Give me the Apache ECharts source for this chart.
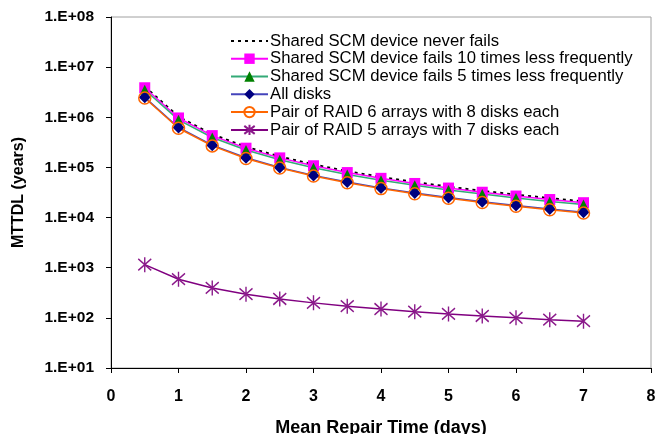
<!DOCTYPE html>
<html>
<head>
<meta charset="utf-8">
<script src="https://cdn.jsdelivr.net/npm/echarts@6/dist/echarts.min.js"></script>
<style>html,body{margin:0;padding:0;background:#fff;overflow:hidden}#c{width:655px;height:434px}</style>
</head>
<body>
<div id="c"></div>
<script>
var repairDays = [0.5, 1, 1.5, 2, 2.5, 3, 3.5, 4, 4.5, 5, 5.5, 6, 6.5, 7];
var seriesNames = [
  'Shared SCM device never fails',
  'Shared SCM device fails 10 times less frequently',
  'Shared SCM device fails 5 times less frequently',
  'All disks',
  'Pair of RAID 6 arrays with 8 disks each',
  'Pair of RAID 5 arrays with 7 disks each'
];
var scmNeverFails = [4.1e6, 1.03e6, 4.58e5, 2.58e5, 1.65e5, 1.15e5, 8.4e4, 6.45e4, 5.1e4, 4.13e4, 3.41e4, 2.87e4, 2.44e4, 2.1e4];
var scmFails10x = [3.88e6, 9.7e5, 4.31e5, 2.42e5, 1.55e5, 1.08e5, 7.9e4, 6.06e4, 4.79e4, 3.88e4, 3.2e4, 2.69e4, 2.29e4, 1.98e4];
var scmFails5x = [3.55e6, 8.9e5, 3.95e5, 2.22e5, 1.42e5, 9.85e4, 7.25e4, 5.55e4, 4.39e4, 3.55e4, 2.94e4, 2.47e4, 2.1e4, 1.82e4];
var allDisks = [2.5e6, 6.25e5, 2.78e5, 1.56e5, 1.0e5, 6.94e4, 5.1e4, 3.91e4, 3.09e4, 2.5e4, 2.07e4, 1.74e4, 1.48e4, 1.28e4];
var raid6Pair = [2.42e6, 6.05e5, 2.69e5, 1.51e5, 9.7e4, 6.72e4, 4.94e4, 3.78e4, 2.99e4, 2.42e4, 2.0e4, 1.68e4, 1.43e4, 1.23e4];
var raid5Pair = [1150, 590, 395, 297, 238, 199, 171, 150, 133, 120, 109, 100, 92, 86];
var yTickLabels = ['1.E+01', '1.E+02', '1.E+03', '1.E+04', '1.E+05', '1.E+06', '1.E+07', '1.E+08'];

function pairs(vals) { return repairDays.map(function (d, i) { return [d, vals[i]]; }); }

var FONT = '"Liberation Sans", Arial, sans-serif';
var chart = echarts.init(document.getElementById('c'), null, {renderer: 'canvas', width: 655, height: 434});
var legendData = seriesNames.map(function (n, i) {
  return i === 0 ? {name: n, itemStyle: {color: 'rgba(0,0,0,0)', borderWidth: 0, opacity: 0}} : {name: n};
});
chart.setOption({
  animation: false,
  backgroundColor: '#ffffff',
  grid: {left: 111, width: 540, top: 17, height: 351, show: true, borderColor: '#a0a0a0', borderWidth: 1,
    containLabel: false, outerBoundsMode: 'none'},
  legend: {
    orient: 'vertical', left: 225, top: 27, itemWidth: 37, itemHeight: 13, itemGap: 0,
    textStyle: {fontFamily: FONT, fontSize: 16.7, color: '#000', lineHeight: 17.8, padding: [0, 0, 0, -3]},
    data: legendData
  },
  xAxis: {
    type: 'value', min: 0, max: 8, interval: 1,
    name: 'Mean Repair Time (days)', nameLocation: 'middle', nameGap: 51,
    nameTextStyle: {fontFamily: FONT, fontSize: 18, fontWeight: 'bold', color: '#000'},
    axisLine: {lineStyle: {color: '#000', width: 1}},
    axisTick: {show: true, length: 5, lineStyle: {color: '#000'}},
    axisLabel: {fontFamily: FONT, fontSize: 16, fontWeight: 'bold', color: '#000', margin: 21},
    splitLine: {show: false}
  },
  yAxis: {
    type: 'log', logBase: 10, min: 10, max: 1e8,
    name: 'MTTDL (years)', nameLocation: 'middle', nameGap: 84, nameRotate: 90,
    nameTextStyle: {fontFamily: FONT, fontSize: 16, fontWeight: 'bold', color: '#000'},
    axisLine: {show: true, lineStyle: {color: '#000', width: 1}},
    axisTick: {show: true, length: 5, lineStyle: {color: '#000'}},
    axisLabel: {fontFamily: FONT, fontSize: 15.5, fontWeight: 'bold', color: '#000', margin: 17,
      formatter: function (v) { var e = Math.round(Math.log10(v)); return yTickLabels[e - 1] || ''; }},
    splitLine: {show: false}, minorTick: {show: false}
  },
  series: [
    {name: seriesNames[0], type: 'line', data: pairs(scmNeverFails), symbol: 'none',
      lineStyle: {color: '#000', width: 2, type: [3, 4]}, itemStyle: {color: '#000'}},
    {name: seriesNames[1], type: 'line', data: pairs(scmFails10x), symbol: 'rect', symbolSize: 11,
      lineStyle: {color: '#ff00ff', width: 1.5}, itemStyle: {color: '#ff00ff'}},
    {name: seriesNames[2], type: 'line', data: pairs(scmFails5x), symbol: 'triangle', symbolSize: 10,
      lineStyle: {color: '#33aa77', width: 1.5}, itemStyle: {color: '#008000'}},
    {name: seriesNames[3], type: 'line', data: pairs(allDisks), symbol: 'diamond', symbolSize: 12,
      lineStyle: {color: '#4444bb', width: 1.5}, itemStyle: {color: '#000080'}},
    {name: seriesNames[4], type: 'line', data: pairs(raid6Pair), symbol: 'circle', symbolSize: 12,
      lineStyle: {color: '#ff6600', width: 1.5}, itemStyle: {color: 'rgba(255,255,255,0)', borderColor: '#ff6600', borderWidth: 1.5}},
    {name: seriesNames[5], type: 'line', data: pairs(raid5Pair), symbol: 'path://M0,0L20,20M0,20L20,0M10,-3L10,23', symbolSize: [13, 15],
      lineStyle: {color: '#800080', width: 1.5}, itemStyle: {color: 'none', borderColor: '#8b1a8b', borderWidth: 1.5}}
  ]
});
</script>
</body>
</html>
